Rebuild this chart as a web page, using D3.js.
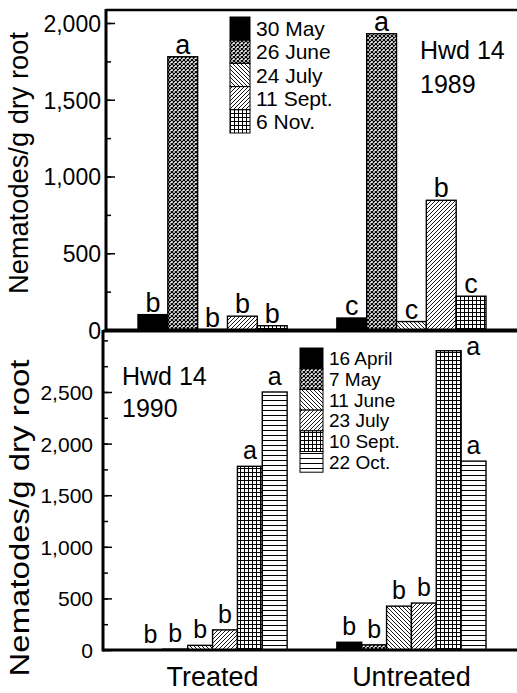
<!DOCTYPE html>
<html>
<head>
<meta charset="utf-8">
<script src="https://cdn.jsdelivr.net/npm/d3@7"></script>
<style>
  body { margin: 0; background: #fff; }
  text { font-family: Arial, "Liberation Sans", Helvetica, sans-serif; fill: #000; }
</style>
</head>
<body>
<div id="chart"></div>
<script>
const groups = ['Treated', 'Untreated'];

// 1989 sampling
const dates1989 = ['30 May', '26 June', '24 July', '11 Sept.', '6 Nov.'];
const treated1989 = [100, 1780, 3, 90, 28];
const untreated1989 = [78, 1930, 55, 845, 220];
const letters1989Treated = ['b', 'a', 'b', 'b', 'b'];
const letters1989Untreated = ['c', 'a', 'c', 'b', 'c'];
const ticks1989 = [0, 500, 1000, 1500, 2000];

// 1990 sampling
const dates1990 = ['16 April', '7 May', '11 June', '23 July', '10 Sept.', '22 Oct.'];
const treated1990 = [3, 8, 45, 195, 1780, 2500];
const untreated1990 = [75, 50, 425, 455, 2900, 1830];
const letters1990Treated = ['b', 'b', 'b', 'b', 'a', 'a'];
const letters1990Untreated = ['b', 'b', 'b', 'b', 'a', 'a'];
const ticks1990 = [0, 500, 1000, 1500, 2000, 2500];

const patterns1989 = ['solid', 'mesh', 'back', 'fwd', 'grid'];
const patterns1990 = ['solid', 'mesh', 'back', 'fwd', 'grid', 'horiz'];

const width = 517;
const height = 693;

const svg = d3.select('#chart')
  .append('svg')
  .attr('width', width)
  .attr('height', height);

const defs = svg.append('defs');

function addPattern(id, w, h, draw) {
  const p = defs.append('pattern')
    .attr('id', id)
    .attr('patternUnits', 'userSpaceOnUse')
    .attr('width', w)
    .attr('height', h);
  p.append('rect').attr('width', w).attr('height', h).attr('fill', '#fff');
  draw(p);
}

addPattern('mesh', 4, 4, function(p) {
  p.append('path').attr('d', 'M0,0L4,4M4,0L0,4')
    .attr('stroke', '#000').attr('stroke-width', 1.2);
});
addPattern('back', 4, 4, function(p) {
  p.append('path').attr('d', 'M0,0L4,4M-1,3L1,5M3,-1L5,1')
    .attr('stroke', '#000').attr('stroke-width', 0.9);
});
addPattern('fwd', 4, 4, function(p) {
  p.append('path').attr('d', 'M0,4L4,0M-1,1L1,-1M3,5L5,3')
    .attr('stroke', '#000').attr('stroke-width', 0.9);
});
addPattern('grid', 4, 4, function(p) {
  p.append('path').attr('d', 'M0.5,0V4M0,0.5H4')
    .attr('stroke', '#000').attr('stroke-width', 1);
});
addPattern('horiz', 5, 5, function(p) {
  p.append('path').attr('d', 'M0,0.5H5')
    .attr('stroke', '#000').attr('stroke-width', 1);
});

function fillFor(pat) {
  return pat === 'solid' ? '#000' : 'url(#' + pat + ')';
}

function drawPanel(opt) {
  const g = svg.append('g');
  const y = d3.scaleLinear().domain([0, opt.refValue]).range([opt.zeroY, opt.refY]);
  const x0 = d3.scaleBand().domain(groups).range([138, 486]).paddingInner(0.25);
  const x1 = d3.scaleBand().domain(opt.dates).range([0, x0.bandwidth()]);

  // bars
  groups.forEach(function(grp, gi) {
    const rows = opt.dates.map(function(d, i) {
      return {date: d, v: opt.values[gi][i], pat: opt.patterns[i], lab: opt.letters[gi][i]};
    });
    const bg = g.append('g');
    bg.selectAll('rect')
      .data(rows)
      .enter()
      .append('rect')
      .attr('x', function(d) { return x0(grp) + x1(d.date); })
      .attr('y', function(d) { return y(d.v); })
      .attr('width', x1.bandwidth())
      .attr('height', function(d) { return y(0) - y(d.v); })
      .attr('fill', function(d) { return fillFor(d.pat); })
      .attr('stroke', '#000')
      .attr('stroke-width', 1.4);

    // significance letters
    bg.selectAll('text')
      .data(rows)
      .enter()
      .append('text')
      .attr('font-size', opt.letterSize)
      .attr('text-anchor', 'middle')
      .each(function(d) {
        const cx = x0(grp) + x1(d.date) + x1.bandwidth() / 2;
        let ty = y(d.v) - opt.letterGap;
        let tx = cx;
        // no room above the bar: put the letter beside it
        if (ty - opt.letterSize * 0.55 < opt.frameTop + 2) {
          tx = cx + x1.bandwidth() / 2 + 12;
          ty = y(d.v) + 4;
        }
        d3.select(this).attr('x', tx).attr('y', ty).text(d.lab);
      });
  });

  // frame and axis lines
  g.append('line')
    .attr('x1', opt.axisX).attr('x2', width)
    .attr('y1', opt.frameTop).attr('y2', opt.frameTop)
    .attr('stroke', '#000').attr('stroke-width', opt.topStroke);
  g.append('line')
    .attr('x1', opt.axisX).attr('x2', opt.axisX)
    .attr('y1', opt.frameTop - 1).attr('y2', y(0) + 1.5)
    .attr('stroke', '#000').attr('stroke-width', 3);
  g.append('line')
    .attr('x1', opt.axisX).attr('x2', width)
    .attr('y1', y(0)).attr('y2', y(0))
    .attr('stroke', '#000').attr('stroke-width', 3);

  // minor ticks
  const maxV = y.invert(opt.frameTop);
  const minor = g.append('g')
    .attr('transform', 'translate(' + opt.axisX + ',0)')
    .call(d3.axisLeft(y).tickValues(d3.range(250, maxV, 250)).tickSize(-5).tickFormat(''));
  minor.select('.domain').remove();
  minor.selectAll('line').attr('stroke-width', 1.5);

  // major ticks + labels
  const major = g.append('g')
    .attr('transform', 'translate(' + opt.axisX + ',0)')
    .call(d3.axisLeft(y).tickValues(opt.ticks).tickSize(-9).tickPadding(opt.tickPad).tickFormat(d3.format(',')));
  major.select('.domain').remove();
  major.selectAll('line').attr('stroke-width', 1.5);
  major.selectAll('text')
    .attr('font-size', opt.tickSize)
    .attr('font-family', 'Arial, "Liberation Sans", sans-serif')
    .attr('dy', '0.36em');

  // y axis title
  g.append('text')
    .attr('transform', 'translate(' + opt.titleX + ',' + opt.titleY + ') rotate(-90)')
    .attr('text-anchor', 'middle')
    .attr('font-size', 27)
    .attr('textLength', opt.titleLen)
    .attr('lengthAdjust', 'spacingAndGlyphs')
    .text('Nematodes/g dry root');

  // site / year tag
  g.append('text')
    .attr('x', opt.tagX).attr('y', opt.tagY)
    .attr('font-size', 25)
    .text('Hwd 14');
  g.append('text')
    .attr('x', opt.tagX).attr('y', opt.tagY + opt.tagGap)
    .attr('font-size', 25)
    .text(opt.year);

  // legend
  const lg = g.append('g').attr('transform', 'translate(' + opt.legX + ',' + opt.legY + ')');
  opt.dates.forEach(function(d, i) {
    lg.append('rect')
      .attr('x', 0).attr('y', i * opt.legH)
      .attr('width', opt.legW).attr('height', opt.legH)
      .attr('fill', fillFor(opt.patterns[i]))
      .attr('stroke', '#000').attr('stroke-width', 1);
    lg.append('text')
      .attr('x', opt.legW + 6)
      .attr('y', i * opt.legH + opt.legH / 2 + opt.legSize * 0.36)
      .attr('font-size', opt.legSize)
      .text(d);
  });

  return x0;
}

drawPanel({
  dates: dates1989,
  values: [treated1989, untreated1989],
  letters: [letters1989Treated, letters1989Untreated],
  patterns: patterns1989,
  ticks: ticks1989,
  refValue: 2000, zeroY: 330, refY: 23,
  frameTop: 10, topStroke: 2.5, axisX: 106,
  tickPad: 5, tickSize: 23,
  letterSize: 27, letterGap: 3,
  titleX: 28, titleY: 163, titleLen: 262,
  tagX: 420, tagY: 59, tagGap: 34, year: '1989',
  legX: 230, legY: 17, legW: 20, legH: 23.2, legSize: 21
});

const x0 = drawPanel({
  dates: dates1990,
  values: [treated1990, untreated1990],
  letters: [letters1990Treated, letters1990Untreated],
  patterns: patterns1990,
  ticks: ticks1990,
  refValue: 2500, zeroY: 650, refY: 392,
  frameTop: 331, topStroke: 3, axisX: 103,
  tickPad: 10, tickSize: 21,
  letterSize: 25, letterGap: 7,
  titleX: 29, titleY: 518, titleLen: 317,
  tagX: 122, tagY: 385, tagGap: 32, year: '1990',
  legX: 300, legY: 348, legW: 23, legH: 20.7, legSize: 19
});

// group labels along the bottom
svg.selectAll('.grp')
  .data(groups)
  .enter()
  .append('text')
  .attr('class', 'grp')
  .attr('x', function(d) { return x0(d) + x0.bandwidth() / 2; })
  .attr('y', 686)
  .attr('text-anchor', 'middle')
  .attr('font-size', 27)
  .text(function(d) { return d; });
</script>
</body>
</html>
